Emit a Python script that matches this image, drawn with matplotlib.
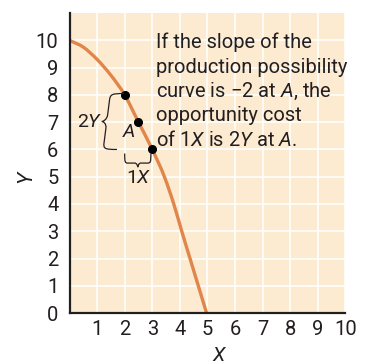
import numpy as np
import matplotlib
matplotlib.use("Agg")
import matplotlib.pyplot as plt
from matplotlib.path import Path
from matplotlib.patches import PathPatch

FONT = "Roboto"
plt.rcParams["font.family"] = [FONT, "DejaVu Sans"]
plt.rcParams["mathtext.fontset"] = "custom"
plt.rcParams["mathtext.rm"] = FONT
plt.rcParams["mathtext.it"] = FONT + ":italic"

# Production possibility curve
ppf_x = [0, 0.5, 1, 1.5, 2, 2.5, 3, 3.44, 3.78, 4.07, 4.37, 4.67, 4.97]
ppf_y = [10, 9.75, 9.3, 8.72, 8, 7, 6, 5, 4, 3, 2, 1, 0]

# Marked points on the curve: start, A, end
pts_x = [2, 2.5, 3]
pts_y = [8, 7, 6]

x_ticks = list(range(1, 11))
y_ticks = list(range(0, 11))

note_lines = [
    "If the slope of the",
    "production possibility",
    "curve is \u22122 at $A$, the",
    "opportunity cost",
    "of 1$X$ is 2$Y$ at $A$.",
]
note_baselines = [9.72, 8.82, 7.92, 7.03, 6.13]

BG = "#fdebd1"
CURVE = "#e0864a"
INK = "#231f20"


def smooth_path(xs, ys):
    """Piecewise cubic Hermite curve through the points (y as a function of x)."""
    x = np.asarray(xs, float)
    y = np.asarray(ys, float)
    h = np.diff(x)
    s = np.diff(y) / h
    m = np.empty_like(x)
    m[0] = s[0]
    m[-1] = s[-1]
    m[1:-1] = (s[:-1] * h[1:] + s[1:] * h[:-1]) / (h[:-1] + h[1:])
    verts = [(x[0], y[0])]
    codes = [Path.MOVETO]
    for i in range(len(x) - 1):
        d = h[i] / 3
        verts += [(x[i] + d, y[i] + m[i] * d),
                  (x[i + 1] - d, y[i + 1] - m[i + 1] * d),
                  (x[i + 1], y[i + 1])]
        codes += [Path.CURVE4] * 3
    return Path(verts, codes)


def brace_path(a, b, depth, hook, tip):
    """Curly brace from end a to end b; the spine sits at offset 'depth'
    from the ends and the middle point sticks out by 'tip'."""
    a = np.asarray(a, float)
    b = np.asarray(b, float)
    d = np.asarray(depth, float)
    t = np.asarray(tip, float)
    u = b - a
    m = (a + b) / 2
    verts = [
        a,
        a + d * 0.9, a + d + u * hook * 0.1, a + d + u * hook,
        m + d - u * hook,
        m + d - u * hook * 0.3, m + d + t * 0.7, m + d + t,
        m + d + t * 0.7, m + d + u * hook * 0.3, m + d + u * hook,
        b + d - u * hook,
        b + d - u * hook * 0.1, b + d * 0.9, b,
    ]
    codes = ([Path.MOVETO] + [Path.CURVE4] * 3 + [Path.LINETO]
             + [Path.CURVE4] * 6 + [Path.LINETO] + [Path.CURVE4] * 3)
    return Path(verts, codes)


fig = plt.figure(figsize=(3.70, 3.64), dpi=100)
ax = fig.add_axes([0.188, 0.140, 0.745, 0.824])
ax.set_facecolor(BG)
ax.set_xlim(0, 10)
ax.set_ylim(0, 11)

ax.set_xticks(x_ticks)
ax.set_yticks(y_ticks)
ax.set_xticklabels([str(v) for v in x_ticks])
ax.set_yticklabels([str(v) for v in y_ticks])
ax.tick_params(length=0, labelsize=14.5, labelcolor=INK)
ax.tick_params(axis="y", pad=8)
ax.tick_params(axis="x", pad=5)
ax.grid(True, color="white", linewidth=1.1)
ax.set_axisbelow(True)
for side in ("top", "right"):
    ax.spines[side].set_visible(False)
for side in ("left", "bottom"):
    ax.spines[side].set_color(INK)
    ax.spines[side].set_linewidth(1.6)
    ax.spines[side].set_zorder(5)

ax.add_patch(PathPatch(smooth_path(ppf_x, ppf_y), facecolor="none",
                       edgecolor=CURVE, linewidth=2.4, zorder=3,
                       capstyle="butt"))
ax.plot(pts_x, pts_y, "o", color="black", markersize=5.5, zorder=4)

# Braces for the change in Y and the change in X
ax.add_patch(PathPatch(
    brace_path((1.98, 8.05), (1.72, 6.0), depth=(-0.5, 0), hook=0.12,
               tip=(-0.18, 0)),
    facecolor="none", edgecolor=INK, linewidth=0.9, zorder=4))
ax.add_patch(PathPatch(
    brace_path((2.0, 5.85), (2.95, 5.85), depth=(0, -0.35), hook=0.12,
               tip=(0, -0.15)),
    facecolor="none", edgecolor=INK, linewidth=0.9, zorder=4))

ax.text(0.75, 7.0, r"2$Y$", ha="center", va="center", fontsize=14,
        color=INK)
ax.text(2.5, 4.95, r"1$X$", ha="center", va="center", fontsize=14,
        color=INK)
ax.text(2.14, 6.64, r"$A$", ha="center", va="center", fontsize=14,
        color=INK)

for line, yb in zip(note_lines, note_baselines):
    ax.text(3.13, yb, line, ha="left", va="baseline", fontsize=14.5,
            color=INK)

ax.set_xlabel(r"$X$", fontsize=14.5, color=INK)
ax.set_ylabel(r"$Y$", fontsize=15, color=INK, rotation=90)
ax.xaxis.set_label_coords(0.546, -0.11)
ax.yaxis.set_label_coords(-0.118, 0.453)

fig.savefig("out.png", dpi=100)
